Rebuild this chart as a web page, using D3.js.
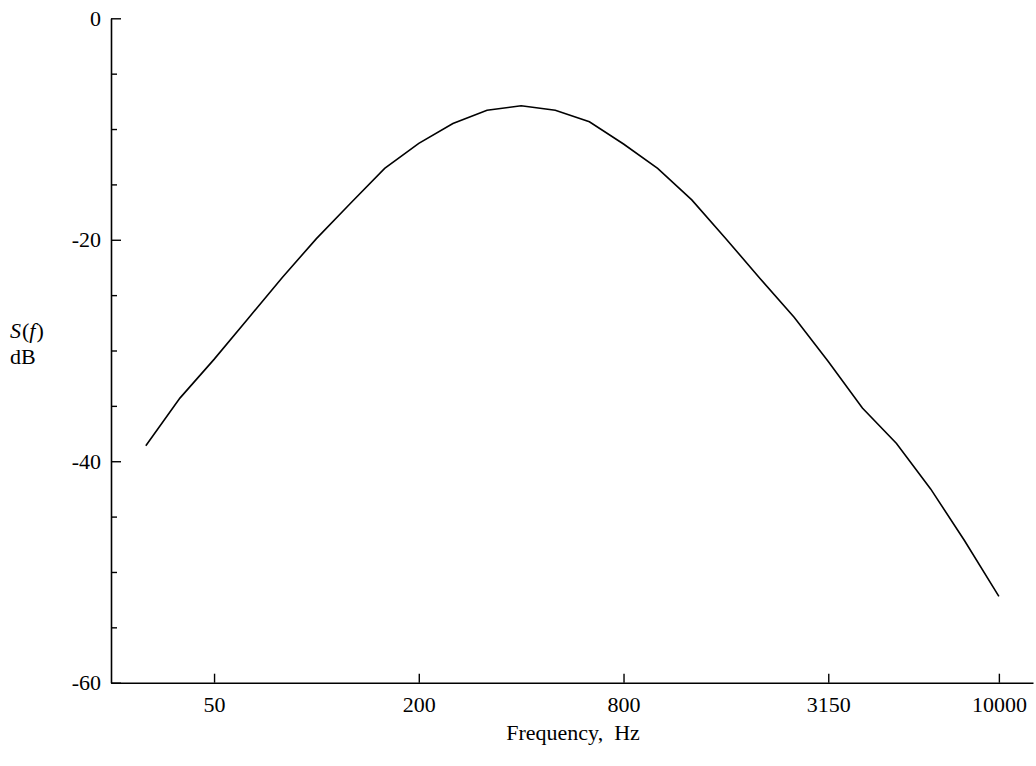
<!DOCTYPE html>
<html lang="en">
<head>
<meta charset="UTF-8">
<title>S(f)</title>
<script src="https://cdn.jsdelivr.net/npm/d3@7"></script>
<style>
  body { margin: 0; background: #fff; }
  text { font-family: "Liberation Serif", "Times New Roman", serif; fill: #000; }
</style>
</head>
<body>
<script>
// third-octave band centres, Hz
const bands = ["31.5","40","50","63","80","100","125","160","200","250","315","400","500",
  "630","800","1000","1250","1600","2000","2500","3150","4000","5000","6300","8000","10000"]
// S(f) in dB, one per band
const level = [-38.6,-34.3,-30.8,-27.1,-23.4,-19.9,-16.7,-13.55,-11.3,-9.5,-8.3,-7.9,-8.3,
  -9.35,-11.35,-13.55,-16.4,-19.9,-23.5,-27.0,-31.0,-35.2,-38.4,-42.5,-47.2,-52.2]
const xLabels = ["50","200","800","3150","10000"]
const yTicks = [0,-5,-10,-15,-20,-25,-30,-35,-40,-45,-50,-55,-60]
const yLabels = [0,-20,-40,-60]

let width = 1036, height = 766
let fs = 22

let svg = d3.select("body").append("svg")
  .attr("width", width)
  .attr("height", height)

// x is band index (equal spacing per third octave)
let x = d3.scaleLinear().domain([-1.02, 26]).range([111, 1033])
let y = d3.scaleLinear().domain([-60, 0]).range([682.7, 18.3])

let xAxis = svg.append("g")
  .attr("transform", `translate(0,${y(-60)})`)
  .call(d3.axisBottom(x)
    .tickValues(xLabels.map(l => bands.indexOf(l)))
    .tickFormat(i => bands[i])
    .tickSizeInner(-9)
    .tickSizeOuter(0)
    .tickPadding(14))
xAxis.select(".domain").attr("stroke-width", 1.6)
xAxis.selectAll(".tick line").attr("stroke-width", 1.4)
xAxis.selectAll(".tick text").attr("font-size", fs)

let yAxis = svg.append("g")
  .attr("transform", `translate(${x(-1.02)},0)`)
  .call(d3.axisLeft(y)
    .tickValues(yTicks)
    .tickFormat(d => yLabels.includes(d) ? d : "")
    .tickSizeOuter(0)
    .tickPadding(10))
yAxis.select(".domain").attr("stroke-width", 1.6)
yAxis.selectAll(".tick line")
  .attr("x2", d => yLabels.includes(d) ? 10 : 6)
  .attr("stroke-width", 1.4)
yAxis.selectAll(".tick text").attr("font-size", fs).attr("x", -10)

let line = d3.line()
  .x((d, i) => x(i))
  .y(d => y(d))

svg.append("path")
  .datum(level)
  .attr("fill", "none")
  .attr("stroke", "#000")
  .attr("stroke-width", 1.6)
  .attr("d", line)

// axis titles
svg.append("text")
  .attr("x", 573)
  .attr("y", 740)
  .attr("text-anchor", "middle")
  .attr("font-size", fs)
  .style("white-space", "pre")
  .text("Frequency,  Hz")

let yt = svg.append("text").attr("x", 10).attr("y", 338).attr("font-size", fs)
yt.append("tspan").attr("font-style", "italic").text("S")
yt.append("tspan").attr("dx", 1).text("(")
yt.append("tspan").attr("font-style", "italic").text("f")
yt.append("tspan").attr("dx", 1).text(")")
svg.append("text").attr("x", 10).attr("y", 364).attr("font-size", fs).text("dB")
</script>
</body>
</html>
